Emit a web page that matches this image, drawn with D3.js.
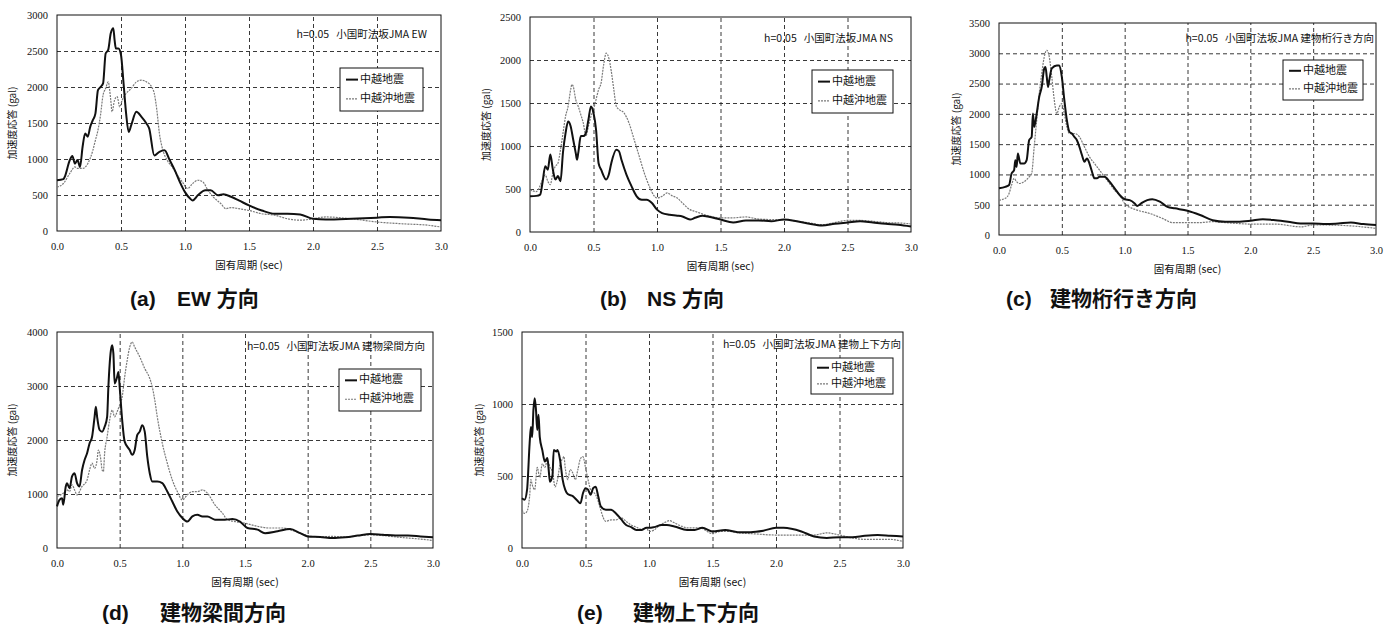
<!DOCTYPE html>
<html lang="ja">
<head>
<meta charset="UTF-8">
<title>加速度応答スペクトル</title>
<script src="https://d3js.org/d3.v7.min.js"></script>
<style>
  body { margin: 0; background: #fff; }
  svg { display: block; }
  .tick text { font-family: "Liberation Serif", "DejaVu Serif", serif; font-size: 10.5px; fill: #111; }
  .grid line { stroke: #222; stroke-width: 0.9; stroke-dasharray: 4,3; }
  .axlabel, .note, .legend text { font-family: "Noto Sans CJK JP", sans-serif; fill: #111; }
  .caption { font-family: "Liberation Sans", "Noto Sans CJK JP", sans-serif; font-weight: bold; font-size: 21px; fill: #111; }
</style>
</head>
<body>
<svg id="chart"></svg>
<script>
// period (sec), spectral acceleration (gal)
const xTicks = [0, 0.5, 1.0, 1.5, 2.0, 2.5, 3.0];
const seriesNames = ["中越地震", "中越沖地震"];

const ewChuetsu = [[0,705],[0.05,720],[0.06,750],[0.1,985],[0.12,1040],[0.14,935],[0.16,985],[0.18,890],[0.2,1170],[0.22,1355],[0.24,1310],[0.26,1450],[0.28,1540],[0.3,1630],[0.32,1955],[0.34,2000],[0.36,2050],[0.38,2465],[0.4,2515],[0.42,2745],[0.44,2815],[0.45,2650],[0.46,2535],[0.48,2535],[0.5,2445],[0.52,2050],[0.54,1630],[0.56,1375],[0.58,1470],[0.62,1655],[0.66,1585],[0.7,1490],[0.72,1425],[0.76,1050],[0.8,1100],[0.84,1120],[0.88,985],[0.92,845],[0.96,680],[1.0,540],[1.04,450],[1.06,425],[1.1,495],[1.16,565],[1.2,565],[1.26,495],[1.3,510],[1.36,475],[1.42,425],[1.5,355],[1.6,285],[1.7,240],[1.8,240],[1.9,230],[2.0,170],[2.1,160],[2.3,170],[2.5,185],[2.6,195],[2.75,185],[2.9,160],[3.0,150]];
const ewChuetsuOki = [[0,610],[0.05,660],[0.1,800],[0.14,890],[0.16,870],[0.2,870],[0.24,935],[0.28,1120],[0.3,1260],[0.32,1400],[0.34,1610],[0.36,1890],[0.38,1980],[0.4,2070],[0.42,1820],[0.43,1655],[0.45,1820],[0.47,1865],[0.49,1725],[0.51,1820],[0.54,1910],[0.58,1980],[0.62,2070],[0.66,2095],[0.7,2070],[0.74,2000],[0.76,1910],[0.78,1680],[0.8,1355],[0.82,1170],[0.86,985],[0.9,890],[0.94,775],[0.98,680],[1.02,590],[1.06,660],[1.1,705],[1.14,680],[1.18,565],[1.22,475],[1.28,380],[1.32,310],[1.36,325],[1.42,310],[1.5,285],[1.6,240],[1.7,220],[1.8,170],[1.9,150],[2.0,170],[2.1,195],[2.3,170],[2.5,125],[2.7,100],[2.9,80],[3.0,55]];

const nsChuetsu = [[0,415],[0.05,420],[0.08,435],[0.1,590],[0.12,765],[0.14,725],[0.16,900],[0.18,725],[0.2,610],[0.22,650],[0.24,590],[0.26,930],[0.28,1150],[0.3,1285],[0.32,1230],[0.34,1075],[0.36,920],[0.37,840],[0.38,920],[0.4,1115],[0.42,1115],[0.44,1150],[0.46,1305],[0.48,1460],[0.5,1385],[0.52,1190],[0.54,800],[0.56,725],[0.6,610],[0.62,665],[0.64,800],[0.68,955],[0.7,940],[0.72,840],[0.76,665],[0.8,530],[0.84,415],[0.88,375],[0.92,375],[0.96,337],[1.0,260],[1.04,220],[1.1,200],[1.16,190],[1.2,180],[1.26,145],[1.3,165],[1.36,190],[1.4,180],[1.5,145],[1.6,110],[1.7,135],[1.8,135],[1.9,125],[2.0,145],[2.1,125],[2.2,95],[2.3,75],[2.4,95],[2.5,110],[2.6,125],[2.7,110],[2.8,95],[2.9,85],[3.0,65]];
const nsChuetsuOki = [[0,490],[0.05,470],[0.1,610],[0.12,665],[0.14,590],[0.16,550],[0.18,685],[0.2,765],[0.22,800],[0.24,955],[0.26,1150],[0.28,1345],[0.3,1460],[0.32,1655],[0.33,1715],[0.34,1695],[0.36,1540],[0.38,1460],[0.4,1365],[0.42,1265],[0.44,1115],[0.46,1230],[0.48,1345],[0.5,1425],[0.52,1540],[0.54,1655],[0.56,1735],[0.58,1945],[0.6,2080],[0.62,2025],[0.64,1870],[0.66,1655],[0.68,1460],[0.7,1425],[0.74,1385],[0.78,1265],[0.82,1075],[0.86,880],[0.9,685],[0.94,530],[0.98,415],[1.0,395],[1.04,415],[1.08,455],[1.12,420],[1.16,395],[1.2,337],[1.26,260],[1.3,240],[1.4,190],[1.5,165],[1.6,165],[1.7,175],[1.8,150],[1.9,145],[2.0,145],[2.1,125],[2.2,105],[2.3,85],[2.4,110],[2.5,135],[2.6,135],[2.7,125],[2.8,110],[2.9,105],[3.0,95]];

const ketaChuetsu = [[0,770],[0.05,795],[0.08,825],[0.1,1015],[0.12,1070],[0.13,1235],[0.14,1125],[0.15,1345],[0.17,1180],[0.2,1180],[0.22,1235],[0.24,1565],[0.26,1620],[0.27,2005],[0.28,1785],[0.3,2005],[0.32,2280],[0.34,2445],[0.36,2750],[0.37,2775],[0.38,2610],[0.39,2445],[0.4,2555],[0.42,2750],[0.46,2800],[0.48,2800],[0.5,2610],[0.52,2225],[0.54,1895],[0.56,1705],[0.58,1675],[0.6,1620],[0.62,1565],[0.64,1455],[0.66,1320],[0.68,1210],[0.7,1265],[0.72,1180],[0.74,1045],[0.76,935],[0.78,935],[0.8,960],[0.84,960],[0.88,880],[0.92,770],[0.96,660],[1.0,590],[1.04,575],[1.08,520],[1.1,480],[1.14,535],[1.18,575],[1.22,590],[1.28,550],[1.34,465],[1.4,440],[1.5,400],[1.6,330],[1.7,245],[1.8,220],[1.9,220],[2.0,235],[2.1,260],[2.2,245],[2.3,220],[2.4,190],[2.5,190],[2.6,180],[2.7,190],[2.8,205],[2.9,180],[3.0,165]];
const ketaChuetsuOki = [[0,575],[0.05,605],[0.08,685],[0.1,825],[0.12,935],[0.14,880],[0.16,850],[0.2,880],[0.24,960],[0.26,1015],[0.28,1455],[0.3,1895],[0.32,2335],[0.34,2665],[0.36,2940],[0.38,3050],[0.4,2940],[0.42,2610],[0.44,2225],[0.46,2005],[0.48,2115],[0.5,2170],[0.52,2005],[0.54,1785],[0.56,1675],[0.6,1675],[0.64,1620],[0.68,1455],[0.72,1290],[0.76,1180],[0.8,1070],[0.84,960],[0.88,850],[0.92,740],[0.96,660],[1.0,520],[1.06,440],[1.1,410],[1.2,355],[1.3,275],[1.38,205],[1.5,205],[1.6,205],[1.7,220],[1.8,205],[1.9,190],[2.0,180],[2.2,180],[2.4,135],[2.5,165],[2.6,165],[2.8,150],[3.0,110]];

const hariChuetsu = [[0,770],[0.02,890],[0.04,920],[0.05,800],[0.07,1140],[0.08,1200],[0.1,1105],[0.12,1325],[0.14,1385],[0.16,1200],[0.18,1140],[0.2,1445],[0.22,1630],[0.24,1755],[0.26,1940],[0.28,2060],[0.3,2430],[0.31,2615],[0.32,2430],[0.34,2185],[0.36,2155],[0.38,2245],[0.4,2430],[0.41,2985],[0.43,3660],[0.44,3755],[0.45,3600],[0.46,3045],[0.48,3170],[0.49,3260],[0.5,2985],[0.52,2370],[0.54,1970],[0.58,1815],[0.6,1725],[0.62,1815],[0.64,2090],[0.66,2155],[0.68,2275],[0.7,2155],[0.72,1695],[0.74,1385],[0.76,1230],[0.8,1230],[0.84,1200],[0.88,1045],[0.92,860],[0.96,675],[1.0,555],[1.04,490],[1.08,585],[1.12,615],[1.16,585],[1.2,585],[1.26,525],[1.34,525],[1.4,535],[1.46,490],[1.52,370],[1.6,340],[1.66,275],[1.76,310],[1.86,350],[1.94,275],[2.0,215],[2.1,205],[2.2,185],[2.3,200],[2.4,230],[2.5,260],[2.6,245],[2.7,230],[2.8,230],[2.9,215],[3.0,200]];
const hariChuetsuOki = [[0,955],[0.05,1015],[0.08,1075],[0.1,1045],[0.12,1170],[0.14,1075],[0.16,985],[0.2,1140],[0.24,1260],[0.26,1445],[0.28,1570],[0.3,1475],[0.32,1630],[0.33,1815],[0.35,1630],[0.36,1445],[0.37,1415],[0.38,1755],[0.4,2060],[0.42,2370],[0.44,2555],[0.46,2430],[0.48,2525],[0.5,2645],[0.52,2800],[0.54,3170],[0.56,3475],[0.58,3720],[0.6,3815],[0.62,3720],[0.66,3540],[0.7,3325],[0.74,3140],[0.76,2985],[0.78,2740],[0.8,2430],[0.84,1940],[0.88,1570],[0.92,1260],[0.96,1045],[1.0,890],[1.04,985],[1.08,1045],[1.12,1045],[1.16,1075],[1.2,1015],[1.26,800],[1.32,645],[1.36,525],[1.42,490],[1.5,460],[1.6,400],[1.7,370],[1.8,370],[1.9,310],[2.0,230],[2.1,205],[2.2,215],[2.3,200],[2.4,230],[2.5,245],[2.6,230],[2.7,205],[2.8,185],[2.9,165],[3.0,140]];

const udChuetsu = [[0,345],[0.02,335],[0.04,405],[0.06,725],[0.07,840],[0.08,770],[0.09,960],[0.1,1040],[0.11,960],[0.12,820],[0.13,925],[0.14,770],[0.16,680],[0.18,600],[0.2,625],[0.21,545],[0.22,460],[0.24,505],[0.25,680],[0.27,670],[0.28,680],[0.3,610],[0.32,475],[0.34,405],[0.36,375],[0.4,360],[0.44,325],[0.46,310],[0.48,380],[0.5,415],[0.52,405],[0.54,370],[0.56,415],[0.58,425],[0.6,360],[0.62,290],[0.66,265],[0.7,265],[0.74,240],[0.78,200],[0.82,160],[0.86,145],[0.9,125],[0.94,125],[0.98,140],[1.0,140],[1.04,145],[1.1,160],[1.14,160],[1.2,150],[1.3,125],[1.36,125],[1.42,140],[1.5,115],[1.6,125],[1.7,110],[1.8,110],[1.9,120],[2.0,140],[2.06,140],[2.2,115],[2.3,80],[2.4,70],[2.5,75],[2.6,75],[2.7,85],[2.8,90],[2.9,85],[3.0,80]];
const udChuetsuOki = [[0,265],[0.02,240],[0.04,255],[0.06,360],[0.07,475],[0.08,440],[0.1,405],[0.12,560],[0.14,490],[0.16,585],[0.18,560],[0.2,610],[0.22,560],[0.24,530],[0.26,425],[0.28,475],[0.3,585],[0.32,620],[0.33,635],[0.34,560],[0.36,475],[0.38,545],[0.4,520],[0.42,475],[0.44,545],[0.46,620],[0.48,635],[0.5,560],[0.52,475],[0.54,405],[0.58,370],[0.6,325],[0.62,265],[0.64,210],[0.66,185],[0.7,195],[0.74,195],[0.78,210],[0.82,185],[0.86,160],[0.9,145],[0.94,130],[0.98,140],[1.0,115],[1.04,125],[1.08,155],[1.12,175],[1.16,190],[1.2,175],[1.26,150],[1.3,140],[1.4,140],[1.5,100],[1.56,115],[1.64,115],[1.7,105],[1.8,100],[2.0,90],[2.2,90],[2.3,90],[2.4,105],[2.5,90],[2.6,70],[2.7,60],[2.8,60],[2.9,60],[3.0,45]];

const yMaxes = [3000, 2500, 3500, 4000, 1500];
const yStep  = [500, 500, 500, 1000, 500];
const notes = ["h=0.05\u00a0\u00a0\u00a0小国町法坂JMA EW", "h=0.05\u00a0\u00a0\u00a0小国町法坂JMA NS", "h=0.05\u00a0\u00a0\u00a0小国町法坂JMA 建物桁行き方向",
               "h=0.05\u00a0\u00a0\u00a0小国町法坂JMA 建物梁間方向", "h=0.05\u00a0\u00a0\u00a0小国町法坂JMA 建物上下方向"];
const captionTags = ["(a)", "(b)", "(c)", "(d)", "(e)"];
const captionTexts = ["EW 方向", "NS 方向", "建物桁行き方向", "建物梁間方向", "建物上下方向"];
const solidSeries = [ewChuetsu, nsChuetsu, ketaChuetsu, hariChuetsu, udChuetsu];
const dottedSeries = [ewChuetsuOki, nsChuetsuOki, ketaChuetsuOki, hariChuetsuOki, udChuetsuOki];

// layout of each panel on the page
const layout = [
  { l: 57,  r: 441,  t: 15,  b: 231, ylx: 13,  noteDx: 14, noteDy: 23, lg: [340, 68, 83, 43],  cap: [130, 306, 47] },
  { l: 530, r: 911,  t: 17,  b: 232, ylx: 487, noteDx: 18, noteDy: 25, lg: [812, 70, 81, 43],  cap: [600, 306, 47] },
  { l: 999, r: 1376, t: 23,  b: 235, ylx: 957, noteDx: 2,  noteDy: 19, lg: [1283, 60, 80, 40], cap: [1006, 306, 44] },
  { l: 57,  r: 433,  t: 332, b: 548, ylx: 13,  noteDx: 8,  noteDy: 18, lg: [339, 369, 82, 42], cap: [102, 620, 58] },
  { l: 522, r: 903,  t: 332, b: 548, ylx: 480, noteDx: 2,  noteDy: 16, lg: [811, 358, 82, 36], cap: [577, 620, 56] }
];

const svg = d3.select("#chart").attr("width", 1394).attr("height", 627);

layout.forEach((p, i) => {
  const x = d3.scaleLinear().domain([0, 3]).range([p.l, p.r]);
  const y = d3.scaleLinear().domain([0, yMaxes[i]]).range([p.b, p.t]);
  const g = svg.append("g");

  // dashed grid + tick labels
  g.append("g").attr("class", "grid")
    .attr("transform", `translate(0,${p.b})`)
    .call(d3.axisBottom(x).tickValues(xTicks).tickSizeInner(-(p.b - p.t)).tickSizeOuter(0)
      .tickPadding(12).tickFormat(d3.format(".1f")))
    .call(a => a.select(".domain").remove())
    .call(a => a.selectAll(".tick line").filter(d => d === 0 || d === 3).remove())
    .call(a => a.selectAll(".tick text").attr("font-family", "Liberation Serif"));

  g.append("g").attr("class", "grid")
    .attr("transform", `translate(${p.l},0)`)
    .call(d3.axisLeft(y).tickValues(d3.range(0, yMaxes[i] + 1, yStep[i])).tickSizeInner(-(p.r - p.l)).tickSizeOuter(0)
      .tickPadding(9).tickFormat(d3.format("d")))
    .call(a => a.select(".domain").remove())
    .call(a => a.selectAll(".tick line").filter(d => d === 0 || d === yMaxes[i]).remove())
    .call(a => a.selectAll(".tick text").attr("font-family", "Liberation Serif"));

  g.append("rect").attr("x", p.l).attr("y", p.t).attr("width", p.r - p.l).attr("height", p.b - p.t)
    .attr("fill", "none").attr("stroke", "#111").attr("stroke-width", 1);

  const line = d3.line().x(d => x(d[0])).y(d => y(d[1])).curve(d3.curveMonotoneX);
  g.append("path").datum(dottedSeries[i]).attr("d", line)
    .attr("fill", "none").attr("stroke", "#7a7a7a").attr("stroke-width", 1.2).attr("stroke-dasharray", "2,1");
  g.append("path").datum(solidSeries[i]).attr("d", line)
    .attr("fill", "none").attr("stroke", "#111").attr("stroke-width", 2);

  // axis titles
  g.append("text").attr("class", "axlabel")
    .attr("transform", `translate(${p.ylx},${(p.t + p.b) / 2}) rotate(-90)`)
    .attr("text-anchor", "middle").attr("dominant-baseline", "middle").attr("font-size", 10)
    .text("加速度応答 (gal)");
  g.append("text").attr("class", "axlabel")
    .attr("x", (p.l + p.r) / 2).attr("y", p.b + 38)
    .attr("text-anchor", "middle").attr("font-size", 10.5)
    .text("固有周期 (sec)");

  // note
  g.append("text").attr("class", "note")
    .attr("x", p.r - p.noteDx).attr("y", p.t + p.noteDy)
    .attr("text-anchor", "end").attr("font-size", 10.5)
    .text(notes[i]);

  // legend
  const [lx, ly, lw, lh] = p.lg;
  const lgG = g.append("g").attr("class", "legend");
  lgG.append("rect").attr("x", lx).attr("y", ly).attr("width", lw).attr("height", lh)
    .attr("fill", "#fff").attr("stroke", "#111").attr("stroke-width", 1);
  seriesNames.forEach((name, k) => {
    const cy = ly + lh * (k === 0 ? 0.27 : 0.72);
    lgG.append("line").attr("x1", lx + 6).attr("x2", lx + 18).attr("y1", cy).attr("y2", cy)
      .attr("stroke", k === 0 ? "#111" : "#7a7a7a").attr("stroke-width", k === 0 ? 2 : 1.2)
      .attr("stroke-dasharray", k === 0 ? null : "2,1");
    lgG.append("text").attr("x", lx + 20).attr("y", cy).attr("dominant-baseline", "middle")
      .attr("font-size", 11).text(name);
  });

  // caption
  const [cx, cyy, gap] = p.cap;
  g.append("text").attr("class", "caption").attr("x", cx).attr("y", cyy).text(captionTags[i]);
  g.append("text").attr("class", "caption").attr("x", cx + gap).attr("y", cyy).text(captionTexts[i]);
});
</script>
</body>
</html>
